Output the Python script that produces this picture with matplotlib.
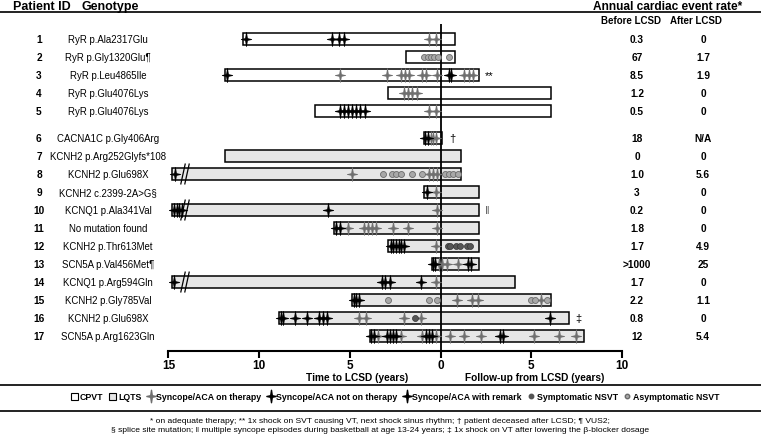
import matplotlib
matplotlib.use('Agg')
import matplotlib.pyplot as plt
import matplotlib.transforms as mtransforms
from matplotlib.path import Path
from matplotlib.patches import Patch
from matplotlib.lines import Line2D

# ---- data ----
patient_ids = [str(i) for i in range(1, 18)]
genotypes = ["RyR p.Ala2317Glu", "RyR p.Gly1320Glu\u00b6", "RyR p.Leu4865Ile",
             "RyR p.Glu4076Lys", "RyR p.Glu4076Lys", "CACNA1C p.Gly406Arg",
             "KCNH2 p.Arg252Glyfs*108", "KCNH2 p.Glu698X", "KCNH2 c.2399-2A>G\u00a7",
             "KCNQ1 p.Ala341Val", "No mutation found", "KCNH2 p.Thr613Met",
             "SCN5A p.Val456Met\u00b6", "KCNQ1 p.Arg594Gln", "KCNH2 p.Gly785Val",
             "KCNH2 p.Glu698X", "SCN5A p.Arg1623Gln"]
diagnosis = ["CPVT"] * 6 + ["LQTS"] * 11
years_before = [10.9, 1.9, 11.9, 2.9, 6.9, 0.9, 11.9, 14.8, 0.9, 14.8, 5.9, 2.9,
                0.5, 14.8, 4.9, 8.9, 3.9]
years_after = [0.8, 0.8, 2.1, 6.1, 6.1, 0.1, 1.1, 1.1, 2.1, 2.1, 2.1, 2.1,
               2.1, 4.1, 6.1, 7.1, 7.9]
broken = [False] * 7 + [True, False, True, False, False, False, True, False, False, False]
rate_before = ["0.3", "67", "8.5", "1.2", "0.5", "18", "0", "1.0", "3", "0.2", "1.8",
               "1.7", ">1000", "1.7", "2.2", "0.8", "12"]
rate_after = ["0", "1.7", "1.9", "0", "0", "N/A", "0", "5.6", "0", "0", "0", "4.9",
              "25", "0", "1.1", "0", "5.4"]
remarks = {2: "**", 5: "\u2020", 9: "\u2016", 15: "\u2021"}

# syncope/ACA on therapy (grey stars)
on_therapy = [
    [-0.63, -0.26], [],
    [-5.57, -2.94, -2.2, -1.98, -1.74, -1.0, -0.81, -0.2, 1.28, 1.54, 1.78],
    [-2.02, -1.8, -1.56, -1.31], [-0.63, -0.26], [-0.55, -0.4, -0.25], [],
    [-4.9, -0.63, -0.4, -0.2], [-0.26], [-0.2],
    [-5.1, -4.24, -4.0, -3.78, -3.54, -2.61, -1.8, -0.2], [-0.26],
    [-0.11, 0.07, 0.35, 0.94], [-0.26], [0.91, 1.72, 2.06, 5.54],
    [-4.52, -4.09, -2.02, -1.09],
    [-3.44, -2.2, -1.0, -0.26, 0.54, 1.28, 2.2, 5.17, 6.5, 7.46]]
# syncope/ACA not on therapy or with remark (black stars)
off_therapy = [
    [-10.75, -6.0, -5.6, -5.35], [], [-11.8, 0.44, 0.57], [],
    [-5.57, -5.35, -5.1, -4.88, -4.65, -4.43, -4.19], [-0.85, -0.7], [],
    [-14.65], [-0.76], [-14.7, -14.55, -14.4, -14.25, -6.22], [-5.76, -5.57],
    [-2.76, -2.61, -2.46, -2.32, -2.17, -2.02], [-0.44, -0.3, 1.5, 1.69],
    [-14.7, -3.22, -3.04, -2.8, -1.09], [-4.8, -4.65, -4.5],
    [-8.81, -8.69, -8.04, -7.35, -6.69, -6.46, -6.24, 6.04],
    [-3.83, -3.65, -2.94, -2.8, -2.65, -2.48, -0.81, -0.63, -0.48, 3.26, 3.44]]
symptomatic_nsvt = {11: [0.39, 0.54, 0.87, 1.06, 1.46, 1.61], 15: [-1.43]}
asymptomatic_nsvt = {1: [-0.9, -0.72, -0.54, -0.35, -0.17, 0.48],
                     7: [-3.19, -2.67, -2.48, -2.2, -1.56, -1.04, 0.26, 0.48, 0.7, 0.94],
                     14: [-2.9, -0.63, -0.2, 4.98, 5.2, 5.85]}

tick_vals = [-15, -10, -5, 0, 5, 10]
tick_labels = ["15", "10", "5", "0", "5", "10"]

# ---- style ----
plt.rcParams['font.family'] = ['Liberation Sans', 'DejaVu Sans']
narrow = ['Liberation Sans Narrow', 'Liberation Sans', 'DejaVu Sans']
GREY = '#6f6f6f'
fills = {"CPVT": "white", "LQTS": "#e6e6e6"}

star = Path([(0, 1), (0.13, 0.13), (0.75, 0), (0.13, -0.13), (0, -1),
             (-0.13, -0.13), (-0.75, 0), (-0.13, 0.13), (0, 1)],
            [Path.MOVETO] + [Path.LINETO] * 7 + [Path.CLOSEPOLY])

fig = plt.figure(figsize=(7.61, 4.35), dpi=100)
ax = fig.add_axes([168.5 / 761, 1 - 352 / 435, (622 - 168.5) / 761, (352 - 25) / 435])

rows = [i if i < 5 else i + 0.5 for i in range(17)]
ax.set_xlim(-15, 10)
ax.set_ylim(17.33, -0.83)

lefts = [-b for b in years_before]
widths = [b + a for b, a in zip(years_before, years_after)]
ax.barh(rows, widths, left=lefts, height=0.7, color=[fills[d] for d in diagnosis],
        edgecolor='black', linewidth=1.1, clip_on=False, zorder=2)
ax.axvline(0, color='black', lw=1.3, zorder=3)

for i, y in enumerate(rows):
    if broken[i]:
        xb = -14.2
        for dx in (0, 0.22):
            ax.plot([xb + dx - 0.12, xb + dx + 0.12], [y + 0.55, y - 0.55],
                    color='black', lw=0.9, zorder=4)
    if on_therapy[i]:
        ax.plot(on_therapy[i], [y] * len(on_therapy[i]), ls='none', marker=star,
                ms=10, color=GREY, mec=GREY, mew=0.5, zorder=5)
    if off_therapy[i]:
        ax.plot(off_therapy[i], [y] * len(off_therapy[i]), ls='none', marker=star,
                ms=10, color='black', mec='black', mew=0.6, zorder=6)
    if i in symptomatic_nsvt:
        ax.plot(symptomatic_nsvt[i], [y] * len(symptomatic_nsvt[i]), ls='none', marker='o',
                ms=4.3, color='#555555', mec='#333333', mew=0.5, zorder=5)
    if i in asymptomatic_nsvt:
        ax.plot(asymptomatic_nsvt[i], [y] * len(asymptomatic_nsvt[i]), ls='none', marker='o',
                ms=4.3, color='#a8a8a8', mec='#6a6a6a', mew=0.6, zorder=5)
    if i in remarks:
        ax.text(years_after[i] + 0.35, y, remarks[i], ha='left', va='center',
                fontsize=8, color='#555555' if i == 9 else 'black')

for s in ('left', 'right', 'top'):
    ax.spines[s].set_visible(False)
ax.spines['bottom'].set_linewidth(1.5)
ax.set_yticks([])
ax.set_xticks(tick_vals)
ax.set_xticklabels(tick_labels, fontweight='bold', fontsize=8.5)
ax.tick_params(axis='x', direction='out', length=5, width=1.5, pad=1)

# axis titles
lab_tr = mtransforms.blended_transform_factory(ax.transData, fig.transFigure)
ax.text(-4.6, 1 - 378 / 435, "Time to LCSD (years)", transform=lab_tr, ha='center',
        va='center', fontsize=7.3, fontweight='bold')
ax.text(5.2, 1 - 378 / 435, "Follow-up from LCSD (years)", transform=lab_tr, ha='center',
        va='center', fontsize=7.3, fontweight='bold')

# side columns
col_tr = mtransforms.blended_transform_factory(fig.transFigure, ax.transData)
for i, y in enumerate(rows):
    ax.text(39 / 761, y, patient_ids[i], transform=col_tr, ha='center', va='center',
            fontsize=7.3, fontweight='bold', clip_on=False)
    ax.text(108 / 761, y, genotypes[i], transform=col_tr, ha='center', va='center',
            fontsize=6.9, clip_on=False)
    ax.text(637 / 761, y, rate_before[i], transform=col_tr, ha='center', va='center',
            fontsize=7.3, fontweight='bold', clip_on=False)
    ax.text(703 / 761, y, rate_after[i], transform=col_tr, ha='center', va='center',
            fontsize=7.3, fontweight='bold', clip_on=False)

# header
fig.text(13 / 761, 1 - 7 / 435, "Patient ID", ha='left', va='center', fontsize=9,
         fontweight='bold')
fig.text(81 / 761, 1 - 7 / 435, "Genotype", ha='left', va='center', fontsize=9,
         fontweight='bold')
fig.text(668 / 761, 1 - 7 / 435, "Annual cardiac event rate*", ha='center', va='center',
         fontsize=8.6, fontweight='bold')
fig.text(631 / 761, 1 - 21 / 435, "Before LCSD", ha='center', va='center', fontsize=7,
         fontweight='bold')
fig.text(696 / 761, 1 - 21 / 435, "After LCSD", ha='center', va='center', fontsize=7,
         fontweight='bold')
for ypx in (13, 385.5, 411.5):
    fig.add_artist(Line2D([0, 1], [1 - ypx / 435] * 2, transform=fig.transFigure,
                          color='#222222', lw=1.4))

# legend
handles = [Patch(facecolor='white', edgecolor='black', lw=0.8),
           Patch(facecolor='#e6e6e6', edgecolor='black', lw=0.8),
           Line2D([], [], ls='none', marker=star, ms=9, color=GREY),
           Line2D([], [], ls='none', marker=star, ms=9, color='black'),
           Line2D([], [], ls='none', marker=star, ms=9, color='black'),
           Line2D([], [], ls='none', marker='o', ms=3.2, color='#555555'),
           Line2D([], [], ls='none', marker='o', ms=3.2, color='#a8a8a8', mec='#6a6a6a')]
labels = ["CPVT", "LQTS", "Syncope/ACA on therapy", "Syncope/ACA not on therapy",
          "Syncope/ACA with remark", "Symptomatic NSVT", "Asymptomatic NSVT"]
fig.legend(handles, labels, loc='center', bbox_to_anchor=(395 / 761, 1 - 398 / 435),
           ncol=7, frameon=False, handlelength=0.8, handleheight=1.0, handletextpad=0.2,
           columnspacing=0.7, borderaxespad=0,
           prop={'family': narrow, 'weight': 'bold', 'size': 6.3})

# footnotes
fig.text(380 / 761, 1 - 422 / 435,
         "* on adequate therapy; ** 1x shock on SVT causing VT, next shock sinus rhythm; "
         "\u2020 patient deceased after LCSD; \u00b6 VUS2;",
         ha='center', va='center', fontsize=6.1, family=narrow)
fig.text(380 / 761, 1 - 431 / 435,
         "\u00a7 splice site mutation; \u2016 multiple syncope episodes during basketball at "
         "age 13-24 years; \u2021 1x shock on VT after lowering the \u03b2-blocker dosage",
         ha='center', va='center', fontsize=6.1, family=narrow)

fig.savefig('out.png', dpi=100)
